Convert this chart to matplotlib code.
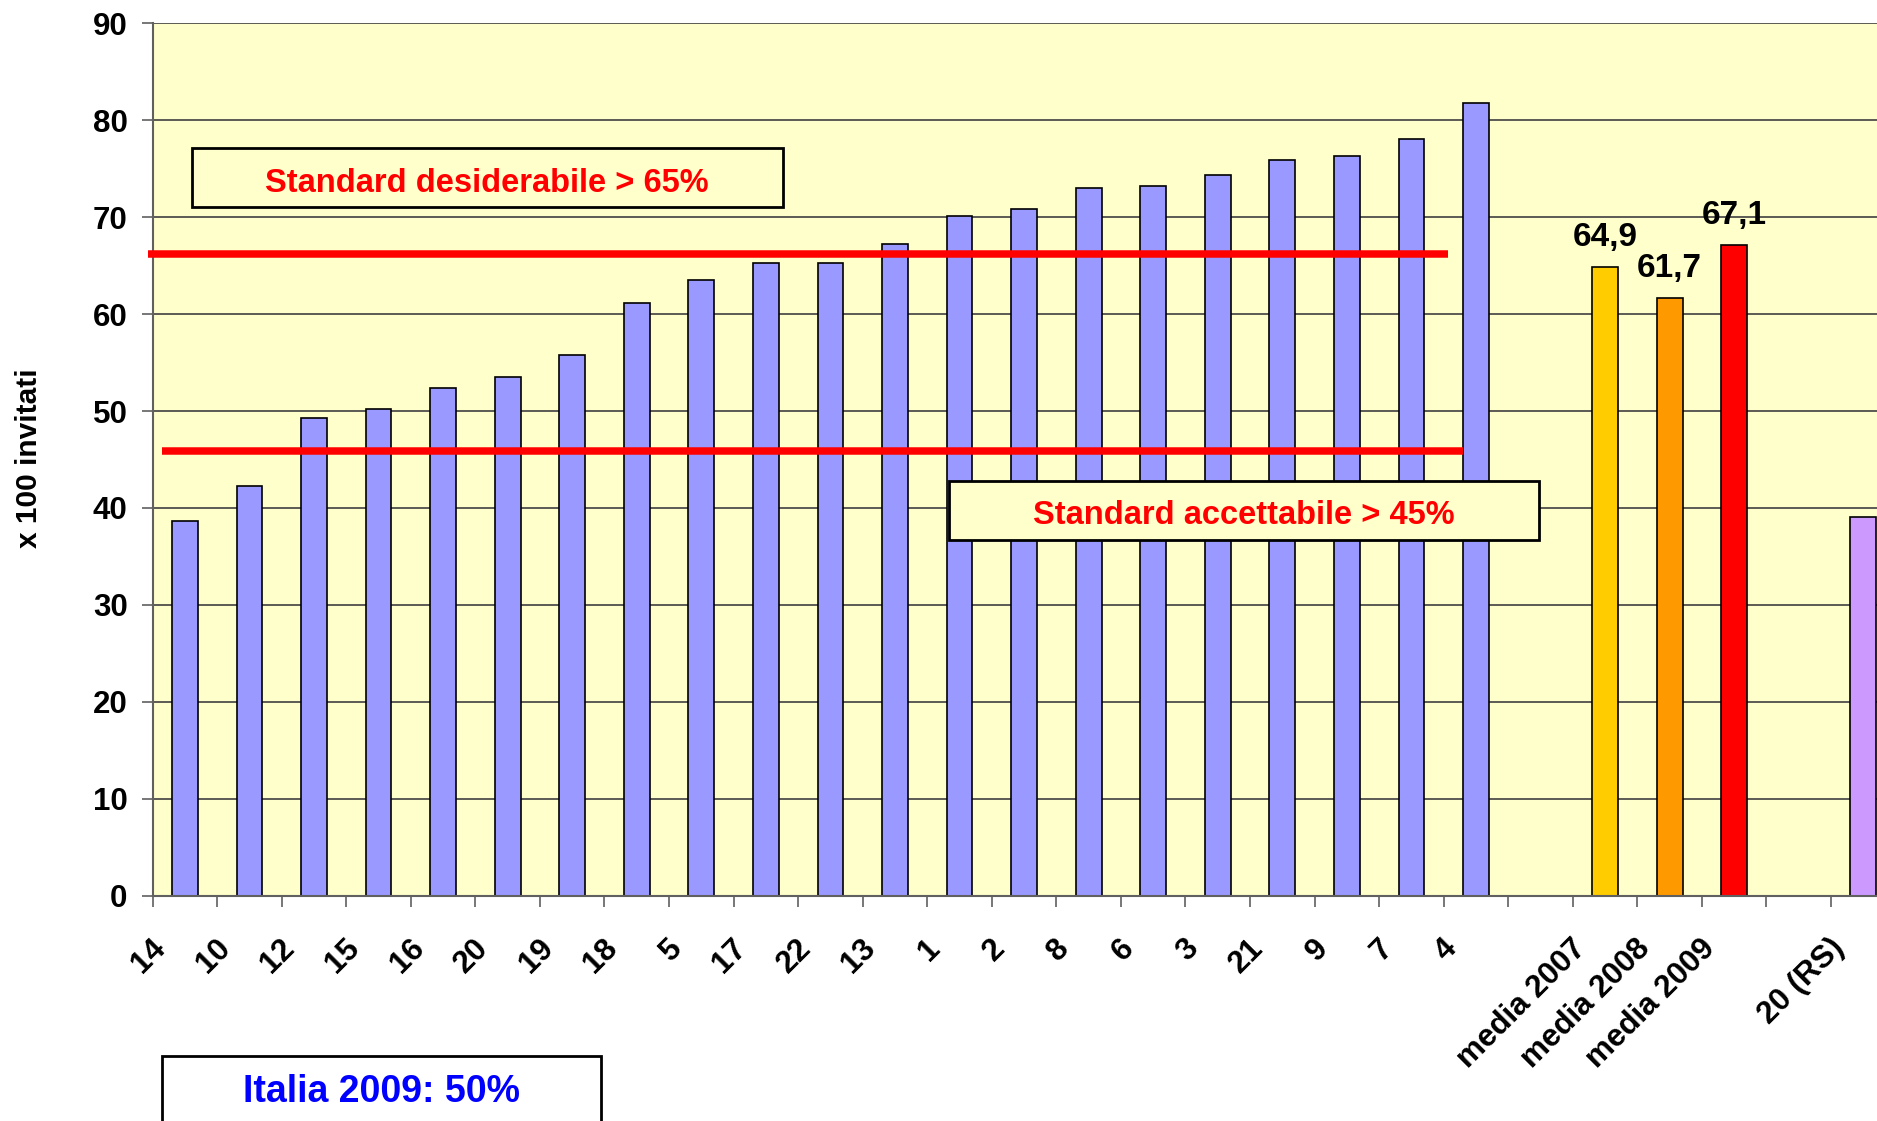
import matplotlib
matplotlib.use("Agg")
import matplotlib.pyplot as plt
import matplotlib.transforms as mtransforms
from matplotlib.patches import Rectangle
import numpy as np

plt.rcParams['font.family'] = ['Liberation Sans', 'DejaVu Sans']
plt.rcParams['font.weight'] = 'bold'

# categories ("" = empty slot in the chart)
labels = ["14", "10", "12", "15", "16", "20", "19", "18", "5", "17", "22", "13",
          "1", "2", "8", "6", "3", "21", "9", "7", "4", "",
          "media 2007", "media 2008", "media 2009", "", "20 (RS)"]
values = [38.7, 42.3, 49.3, 50.2, 52.4, 53.5, 55.8, 61.1, 63.5, 65.3, 65.3, 67.2,
          70.1, 70.8, 73.0, 73.2, 74.3, 75.9, 76.3, 78.1, 81.8, np.nan,
          64.9, 61.7, 67.1, np.nan, 39.1]
value_labels = {"media 2007": "64,9", "media 2008": "61,7", "media 2009": "67,1"}

blue = "#9999FF"
bar_colors = [blue] * 21 + ["none", "#FFCC00", "#FF9900", "#FF0000", "none", "#CC99FF"]

desiderabile = 66.2
accettabile = 45.9

fig = plt.figure(figsize=(18.77, 11.21), dpi=100)
ax = fig.add_axes([0.0813, 0.2010, 0.9286, 0.7782])
ax.set_facecolor("#FFFFCC")

x = np.arange(len(labels))
ax.bar(x, values, width=0.4, color=bar_colors, edgecolor="black", linewidth=1.2, zorder=2)

ax.set_xlim(-0.5, len(labels) - 0.5)
ax.set_ylim(0, 90)
ax.set_yticks(np.arange(0, 91, 10))
ax.yaxis.grid(True, color="#404040", linewidth=1.2, zorder=1)
ax.set_axisbelow(True)
ax.tick_params(axis="y", labelsize=22.5, length=8, width=1.2, color="#606060", pad=10)

# ticks on category boundaries, labels on centres
ax.set_xticks(np.arange(-0.5, len(labels), 1.0))
ax.set_xticklabels([])
ax.tick_params(axis="x", which="major", length=8, width=1.2, color="#606060")
ax.set_xticks(x, minor=True)
ax.set_xticklabels(labels, minor=True, rotation=45, ha="right", fontsize=22.5)
ax.tick_params(axis="x", which="minor", length=0, pad=27)
offset = mtransforms.ScaledTranslation(-0.13, 0, fig.dpi_scale_trans)
for lab in ax.get_xticklabels(minor=True):
    lab.set_transform(lab.get_transform() + offset)

for s in ["top", "right"]:
    ax.spines[s].set_visible(False)
for s in ["left", "bottom"]:
    ax.spines[s].set_color("#606060")
    ax.spines[s].set_linewidth(1.5)

# value labels on the averages
for i, lab in enumerate(labels):
    if lab in value_labels:
        ax.annotate(value_labels[lab], (x[i], values[i]), xytext=(0, 15),
                    textcoords="offset points", ha="center", va="baseline",
                    fontsize=24, fontweight="bold", zorder=5)

# standard lines
ax.plot([-0.576, 19.57], [desiderabile, desiderabile], color="#FF0000", lw=5.4,
        solid_capstyle="butt", clip_on=False, zorder=3)
ax.plot([-0.354, 19.80], [accettabile, accettabile], color="#FF0000", lw=5.4,
        solid_capstyle="butt", clip_on=False, zorder=3)

# text boxes
ax.add_patch(Rectangle((0.113, 71.0), 9.145, 6.14, facecolor="#FFFFCC",
                       edgecolor="black", lw=2, zorder=4))
ax.text(4.68, 73.5, "Standard desiderabile > 65%", color="#FF0000", fontsize=23.5,
        fontweight="bold", ha="center", va="center", zorder=5)
ax.add_patch(Rectangle((11.837, 36.70), 9.14, 6.08, facecolor="#FFFFCC",
                       edgecolor="black", lw=2, zorder=4))
ax.text(16.41, 39.2, "Standard accettabile > 45%", color="#FF0000", fontsize=23.5,
        fontweight="bold", ha="center", va="center", zorder=5)

fig.patches.append(Rectangle((0.0861, -0.02), 0.234, 0.0783, transform=fig.transFigure,
                             facecolor="white", edgecolor="black", lw=2))
fig.text(0.2033, 0.0255, "Italia 2009: 50%", color="#0000FF", fontsize=27,
         fontweight="bold", ha="center", va="center")

fig.text(29.5 / 1877, 1 - 458 / 1121, "x 100 invitati", rotation=90, fontsize=21.5,
         fontweight="bold", ha="center", va="center")

fig.savefig("out.png", dpi=100)
